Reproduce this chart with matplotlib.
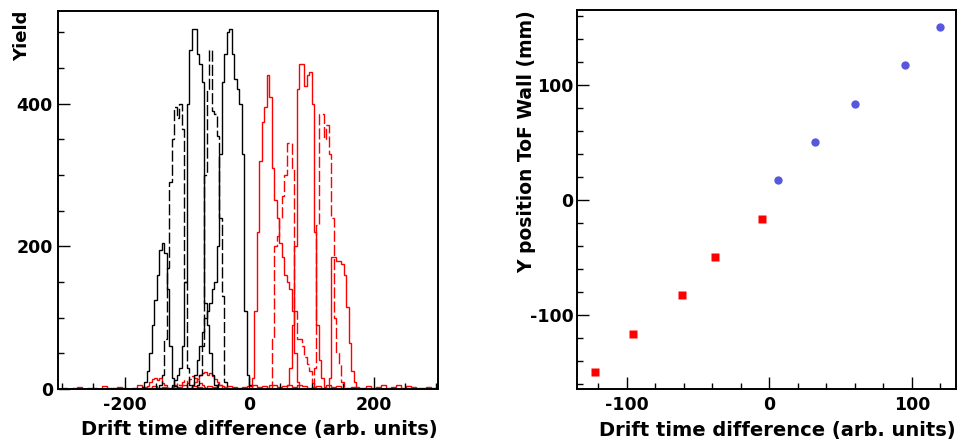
import numpy as np
import matplotlib
matplotlib.use('Agg')
import matplotlib.pyplot as plt
from matplotlib.ticker import MultipleLocator

plt.rcParams['font.family'] = ['DejaVu Sans']
plt.rcParams['font.weight'] = 'bold'
plt.rcParams['axes.unicode_minus'] = False

# histogram bin width (arb. units) and first bin edge of each histogram
BIN = 4

# black histograms (alternating solid / dashed)
blk1_lo = -172
blk1 = [3, 10, 25, 50, 90, 125, 160, 195, 205, 190, 140, 60, 15, 4]
blk2_lo = -144
blk2 = [5, 20, 70, 170, 290, 350, 395, 380, 400, 365, 150, 30, 5]
blk3_lo = -124
blk3 = [5, 12, 20, 30, 60, 150, 400, 475, 505, 505, 470, 455, 430, 120, 90, 50, 20, 6]
blk4_lo = -84
blk4 = [5, 20, 60, 300, 420, 475, 390, 385, 355, 240, 130, 10]
blk5_lo = -92
blk5 = [5, 20, 40, 60, 80, 100, 110, 120, 140, 150, 200, 330, 430, 470, 500, 505,
        470, 435, 420, 400, 330, 110, 20, 5]

# red histograms
red1_lo = 4
red1 = [15, 110, 220, 320, 375, 395, 440, 410, 310, 265, 240, 205, 185, 160, 150,
        140, 110, 50, 10]
red2_lo = 32
red2 = [5, 70, 200, 215, 240, 270, 300, 345, 345, 310, 110, 70, 70, 60, 45, 35, 25, 8]
red3_lo = 60
red3 = [5, 30, 90, 200, 420, 455, 455, 425, 440, 445, 400, 220, 90, 40, 15, 3]
red4_lo = 104
red4 = [30, 230, 385, 385, 350, 370, 330, 240, 100, 50, 35, 10]
red5_lo = 128
red5 = [15, 185, 185, 180, 180, 175, 160, 115, 65, 25, 10, 3]

# small red contributions under the black peaks
redA_lo = -164
redA = [4, 10, 14, 16, 12, 15, 9, 5, 2]
redB_lo = -124
redB = [3, 5, 8, 6, 10, 12, 8, 14, 18, 16, 10, 8, 5, 3]
redC_lo = -92
redC = [5, 10, 14, 20, 22, 24, 20, 22, 18, 14, 10, 6, 4, 3, 2]

# red flat background, 8 unit bins from -300
noise_lo = -300
noise = [2, 0, 1, 3, 0, 2, 1, 0, 4, 1, 2, 3, 1, 0, 2, 5, 3, 2, 4, 1,
         3, 2, 4, 3, 5, 2, 4, 3, 2, 4, 3, 5, 2, 4, 3, 2, 3, 4, 5, 3,
         4, 2, 5, 3, 4, 6, 3, 5, 4, 2, 3, 4, 2, 5, 3, 4, 2, 1, 3, 2,
         1, 4, 2, 3, 5, 2, 3, 6, 2, 4, 3, 2, 1, 3, 2]

# right panel: mean drift time difference vs ToF wall position
red_dt = [-122, -96, -61.5, -38, -5]
red_y = [-150, -117, -83, -50, -17]
blue_dt = [6, 32, 60, 95, 120]
blue_y = [17, 50, 83, 117, 150]

XTITLE = 'Drift time difference (arb. units)'
DASH = (0, (8, 2.2))


def edges(lo, counts, width=BIN):
    return lo + width * np.arange(len(counts) + 1)


def style_axes(ax, ypad):
    for s in ax.spines.values():
        s.set_linewidth(1.4)
    ax.tick_params(which='both', direction='in', top=False, right=False,
                   labelsize=12.5, width=1)
    ax.tick_params(which='major', length=8.5)
    ax.tick_params(axis='y', which='major', pad=ypad)
    ax.tick_params(axis='x', which='major', pad=5)
    ax.tick_params(which='minor', length=4.3)


fig = plt.figure(figsize=(9.57, 4.45), dpi=100)
ax1 = fig.add_axes([0.0611, 0.1258, 0.3966, 0.8495])
ax2 = fig.add_axes([0.6029, 0.1252, 0.3960, 0.8523])

# left panel
ax1.stairs(noise, edges(noise_lo, noise, 8), color='red', lw=1)
for lo, c in [(redA_lo, redA), (redC_lo, redC)]:
    ax1.stairs(c, edges(lo, c), color='red', lw=1)
ax1.stairs(redB, edges(redB_lo, redB), color='red', lw=1, linestyle=DASH)

hists = [(blk1_lo, blk1, 'black', '-'), (blk2_lo, blk2, 'black', DASH),
         (blk3_lo, blk3, 'black', '-'), (blk4_lo, blk4, 'black', DASH),
         (blk5_lo, blk5, 'black', '-'),
         (red1_lo, red1, 'red', '-'), (red2_lo, red2, 'red', DASH),
         (red3_lo, red3, 'red', '-'), (red4_lo, red4, 'red', DASH),
         (red5_lo, red5, 'red', '-')]
for lo, c, col, ls in hists:
    ax1.stairs(c, edges(lo, c), color=col, lw=1, linestyle=ls)

ax1.set_xlim(-306, 303)
ax1.set_ylim(0, 530)
ax1.xaxis.set_major_locator(MultipleLocator(200))
ax1.xaxis.set_minor_locator(MultipleLocator(50))
ax1.yaxis.set_major_locator(MultipleLocator(200))
ax1.yaxis.set_minor_locator(MultipleLocator(50))
style_axes(ax1, 4)
ax1.set_xlabel(XTITLE, fontsize=14, fontweight='bold', loc='right')
ax1.xaxis.set_label_coords(1.0, -0.083)
ax1.set_ylabel('Yield', fontsize=13, fontweight='bold', loc='top')
ax1.yaxis.set_label_coords(-0.0725, 1.0)

# right panel
ax2.plot(red_dt, red_y, 's', color='red', ms=6, mec='none')
ax2.plot(blue_dt, blue_y, 'o', color='#5858dc', ms=6, mec='none')
ax2.set_xlim(-135, 131)
ax2.set_ylim(-165, 165)
ax2.xaxis.set_major_locator(MultipleLocator(100))
ax2.xaxis.set_minor_locator(MultipleLocator(20))
ax2.yaxis.set_major_locator(MultipleLocator(100))
ax2.yaxis.set_minor_locator(MultipleLocator(20))
style_axes(ax2, 2.5)
ax2.set_xlabel(XTITLE, fontsize=14, fontweight='bold', loc='right')
ax2.xaxis.set_label_coords(1.0, -0.083)
ax2.set_ylabel('Y position ToF Wall (mm)', fontsize=13.5, fontweight='bold', loc='top')
ax2.yaxis.set_label_coords(-0.108, 1.0)

fig.savefig('out.png', dpi=100)
